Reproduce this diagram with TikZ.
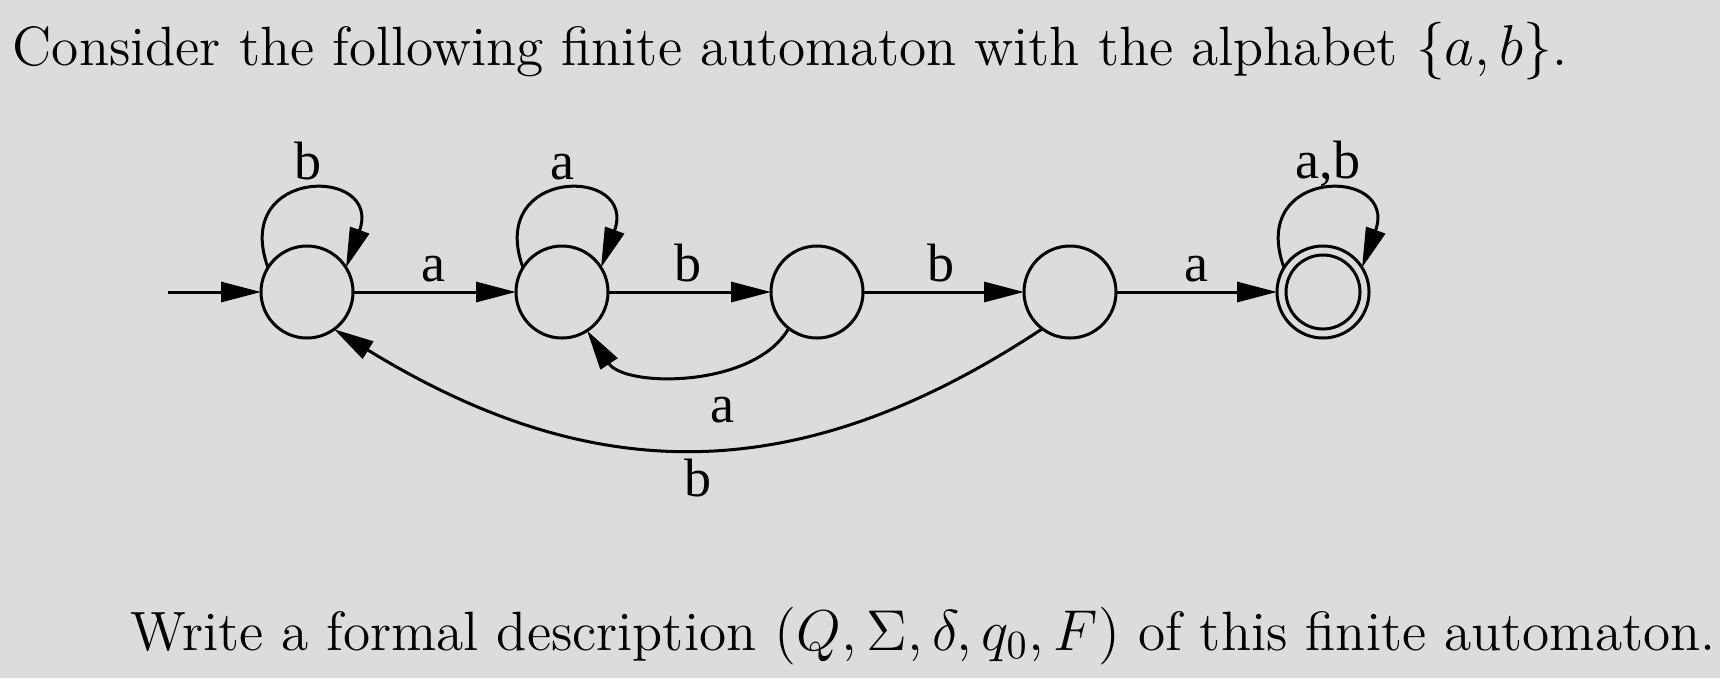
\documentclass[tikz,border=0pt]{standalone}
\usepackage{fontspec}
\usetikzlibrary{arrows.meta}
\newfontfamily\lblfont{Liberation Serif}
\definecolor{bgcol}{RGB}{220,220,220}
\tikzset{
  state/.style={circle, draw, line width=0.75pt, minimum size=23pt, inner sep=0pt, outer sep=0pt},
  trans/.style={line width=0.75pt, -{Triangle[length=10pt,width=5pt]}},
  lbl/.style={anchor=base, inner sep=0pt, font=\lblfont\fontsize{13.5}{16}\selectfont},
  para/.style={anchor=base west, inner sep=0pt, font=\fontsize{13.85}{16}\selectfont}
}
\begin{document}
\begin{tikzpicture}[x=0.25pt,y=0.25pt]
\fill[bgcol] (0,0) rectangle (1720,-678);
\useasboundingbox (0,0) rectangle (1720,-678);

\node[para] (title) at (12,-65) {Consider the following finite automaton with the alphabet $\{a,b\}$.};
\node[para] (task) at (130,-650) {Write a formal description $(Q,\Sigma,\delta,q_0,F)$ of this finite automaton.};

\node[state] (s1) at (307,-292) {};
\node[state] (s2) at (562,-292) {};
\node[state] (s3) at (817,-292) {};
\node[state] (s4) at (1070,-292) {};
\node[state] (s5) at (1323,-292) {};
\draw[line width=0.75pt] (s5.center) circle[radius=9.25pt];

\coordinate (init) at (168,-292);
\draw[trans] (init) -- (s1);
\draw[trans] (s1) -- (s2);
\draw[trans] (s2) -- (s3);
\draw[trans] (s3) -- (s4);
\draw[trans] (s4) -- (s5);

\draw[trans] (s1.148) .. controls +(110:108) and +(70:108) .. (s1.32);
\draw[trans] (s2.148) .. controls +(110:108) and +(70:108) .. (s2.32);
\draw[trans] (s5.148) .. controls +(110:108) and +(70:108) .. (s5.32);

\draw[trans] (s3.-128) .. controls (755,-388) and (625,-388) .. (s2.-57);
\draw[trans] (s4.-127) .. controls (800,-489) and (594,-489) .. (s1.-54);

\node[lbl] (l1) at (308,-179) {b};
\node[lbl] (l2) at (562,-179) {a};
\node[lbl] (l3) at (433,-281) {a};
\node[lbl] (l4) at (688,-281) {b};
\node[lbl] (l5) at (941,-281) {b};
\node[lbl] (l6) at (1196,-281) {a};
\node[lbl] (l7) at (1328,-178) {a,b};
\node[lbl] (l8) at (722,-422) {a};
\node[lbl] (l9) at (698,-496) {b};
\end{tikzpicture}
\end{document}
